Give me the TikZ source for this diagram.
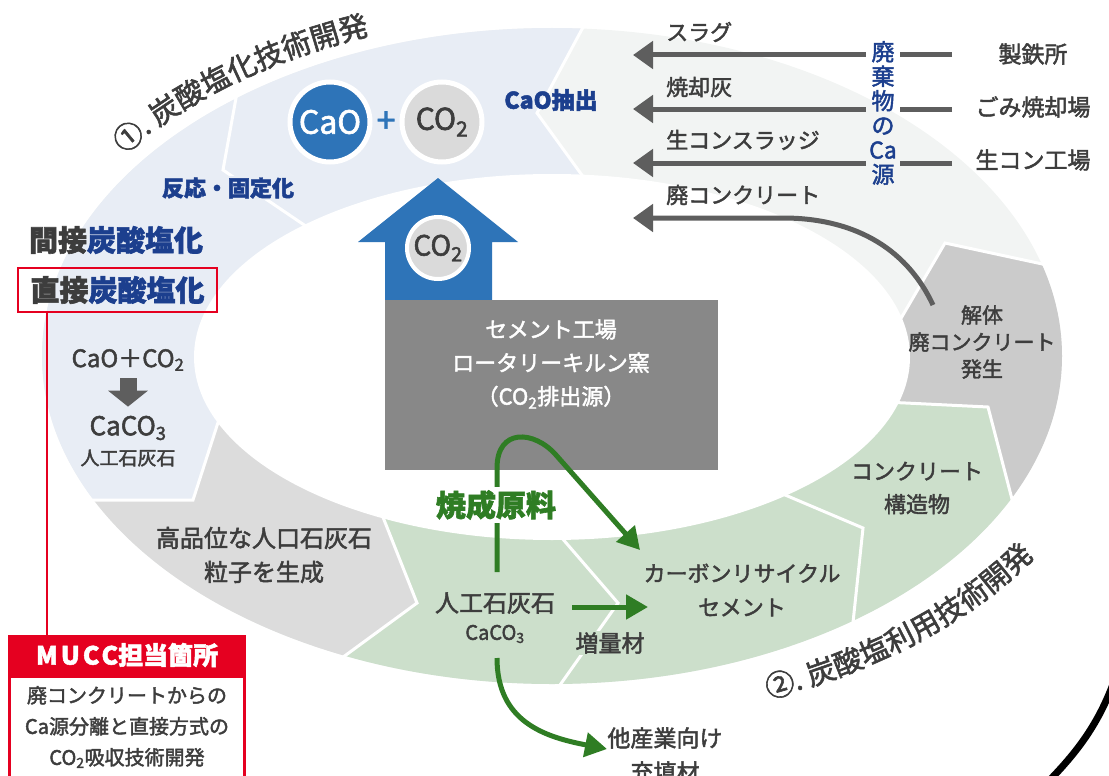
\documentclass[tikz,border=0pt]{standalone}
\usepackage{fontspec}
\setmainfont{Noto Sans CJK JP}[FakeBold=2]
\usetikzlibrary{arrows.meta}
\usetikzlibrary{decorations.text}
\usetikzlibrary{positioning}

\definecolor{ringblue}{HTML}{E8EDF5}
\definecolor{ringlight}{HTML}{F2F4F3}
\definecolor{ringgray}{HTML}{DCDCDC}
\definecolor{ringdark}{HTML}{CBCBCB}
\definecolor{ringgreen}{HTML}{CCDFCB}
\definecolor{kilngray}{HTML}{888888}
\definecolor{cablue}{HTML}{2E74B8}
\definecolor{co2gray}{HTML}{DADADA}
\definecolor{navy}{HTML}{1C3F8E}
\definecolor{txtgray}{HTML}{3D3D3D}
\definecolor{arrowgray}{HTML}{5E5E5E}
\definecolor{leafgreen}{HTML}{2F7D24}
\definecolor{mred}{HTML}{E50020}

\newcommand{\pxsize}[2]{\fontsize{#1}{#2}\selectfont}

\tikzset{
  lbl/.style={text=txtgray, align=center, inner sep=1pt},
  navylbl/.style={text=navy, align=center, inner sep=1pt, font=\bfseries\pxsize{#1}{#1}},
  segline/.style={draw=white, line width=3pt},
  ball/.style={circle, draw=white, line width=5pt, minimum size=80pt, inner sep=0pt},
  srcarrow/.style={draw=arrowgray, line width=5pt, -{Triangle[length=20pt, width=27pt]}},
  feedarrow/.style={draw=leafgreen, line width=5pt, -{Triangle[length=22pt, width=24pt]}},
}

\begin{document}
\begin{tikzpicture}[x=1pt, y=-1pt]
  \useasboundingbox (0,0) rectangle (1109,776);

  \begin{scope}
    \clip (552,356) ellipse [x radius=510, y radius=328];
    \fill[ringlight] (-30,-30) rectangle (1140,800);
    \fill[ringblue] (592,189) -- (537,113) -- (588,18) -- (588,-30) -- (-30,-30) -- (-30,500) -- (193,500) -- (224,404) -- (552,356) -- cycle;
    \fill[ringgray] (224,404) -- (193,500) -- (-30,500) -- (-30,800) -- (300,800) -- (335,663) -- (417,603) -- (375,497) -- (552,356) -- cycle;
    \fill[ringgreen] (375,497) -- (417,603) -- (335,663) -- (300,800) -- (1140,800) -- (1140,510) -- (1013,503) -- (988,407) -- (885,402) -- (552,356) -- cycle;
    \fill[ringdark] (885,402) -- (988,407) -- (1013,503) -- (1140,510) -- (1140,250) -- (1047,265) -- (945,243) -- (893,332) -- (552,356) -- cycle;
  \end{scope}
  \fill[white] (552,357) ellipse [x radius=358, y radius=183];

  \draw[segline] (592,189) -- (537,113) -- (588,18);
  \draw[segline] (316,233) -- (223,170) -- (238,87);
  \draw[segline] (224,404) -- (193,500) -- (80,500);
  \draw[segline] (375,497) -- (417,603) -- (335,663);
  \draw[segline] (555,530) -- (618,603) -- (560,685);
  \draw[segline] (771,489) -- (863,528) -- (852,632);
  \draw[segline] (885,402) -- (988,407) -- (1013,503);
  \draw[segline] (893,332) -- (945,243) -- (1047,265);

  \path (552,356) ++(-153:530 and 342) coordinate (arc1);
  \path[decorate, decoration={text along path, text align=center,
      text={|\pxsize{29}{29}\color{txtgray}|①. 炭酸塩化技術開発}}]
    (arc1) arc[start angle=-153, end angle=-103, x radius=530, y radius=342];
  \path (552,356) ++(76:574 and 370) coordinate (arc2);
  \path[decorate, decoration={text along path, text align=center,
      text={|\pxsize{29}{29}\color{txtgray}|②. 炭酸塩利用技術開発}}]
    (arc2) arc[start angle=76, end angle=22, x radius=574, y radius=370];

  \node[ball, fill=cablue, text=white, font=\pxsize{32}{32}] (cao) at (330,122) {CaO};
  \node[text=cablue, inner sep=0pt, font=\pxsize{34}{34}] (plus) at (386,122) {+};
  \node[ball, fill=co2gray, text=txtgray, font=\pxsize{30}{30}] (co2) at (442,122) {CO\textsubscript{2}};

  \fill[cablue] (438,178) -- (518,242) -- (492,242) -- (492,300) -- (385,300) -- (385,242) -- (358,242) -- cycle;
  \node[ball, fill=co2gray, minimum size=62pt, line width=4pt, text=txtgray, font=\pxsize{28}{28}] (co2up) at (438,248) {CO\textsubscript{2}};

  \node[fill=kilngray, minimum width=333pt, minimum height=170pt, inner sep=0pt] (kiln) at (551.5,385) {};
  \node[text=white, align=center, font=\pxsize{22}{33.5}] (kilnlbl) at (551,364) {セメント工場\\ロータリーキルン窯\\（CO\textsubscript{2}排出源）};

  \node[navylbl=23] (caox) at (551,100) {CaO抽出};
  \node[navylbl=22, fill=ringblue] (hanno) at (228,188) {反応・固定化};
  \node[lbl, font=\bfseries\pxsize{29}{29}] (kansetsu) at (116,240) {間接\textcolor{navy}{炭酸塩化}};
  \node[lbl, draw=mred, line width=2pt, minimum width=199pt, minimum height=44pt, font=\bfseries\pxsize{29}{29}] (chokusetsu) at (117.5,290) {直接\textcolor{navy}{炭酸塩化}};

  \node[lbl, font=\pxsize{24}{24}] (rxn) at (128,360) {CaO＋CO\textsubscript{2}};
  \node[lbl, font=\pxsize{26}{26}] (caco3a) at (128,428) {CaCO\textsubscript{3}};
  \node[lbl, font=\pxsize{19}{19}] (jinko1) at (128,458) {人工石灰石};
  \draw[arrowgray, line width=17pt, -{Triangle[length=16pt, width=39pt]}, shorten <=6pt, shorten >=8pt] (rxn.south) -- (caco3a.north);

  \node[lbl, font=\pxsize{24}{34}] (koshitsu) at (264,555) {高品位な人口石灰石\\粒子を生成};
  \node[lbl, font=\pxsize{24}{24}] (jinko2) at (495,603) {人工石灰石};
  \node[lbl, font=\pxsize{20}{20}] (caco3b) at (495,634) {CaCO\textsubscript{3}};
  \node[lbl, font=\pxsize{23}{23}, fill=ringgreen] (zoryo) at (610,643) {増量材};
  \node[lbl, font=\pxsize{22}{34}] (crc) at (742,590) {カーボンリサイクル\\セメント};
  \node[lbl, font=\pxsize{22}{33}] (kozo) at (917,488) {コンクリート\\構造物};
  \node[lbl, font=\pxsize{21}{27}] (kaitai) at (982,342) {解体\\廃コンクリート\\発生};
  \node[lbl, font=\pxsize{23}{34}] (other) at (665,755) {他産業向け\\充填材};

  \node[lbl, font=\pxsize{23}{23}] (steel) at (1033,54) {製鉄所};
  \node[lbl, font=\pxsize{23}{23}] (incin) at (1033,107) {ごみ焼却場};
  \node[lbl, font=\pxsize{23}{23}] (rmc) at (1033,160) {生コン工場};
  \node[lbl, anchor=west, font=\pxsize{22}{22}] (slag) at (665,32) {スラグ};
  \node[lbl, anchor=west, font=\pxsize{22}{22}] (ash) at (665,87) {焼却灰};
  \node[lbl, anchor=west, font=\pxsize{22}{22}] (sludge) at (665,140) {生コンスラッジ};
  \node[lbl, anchor=west, font=\pxsize{22}{22}] (wastecon) at (665,195) {廃コンクリート};
  \node[text=navy, align=center, inner xsep=3pt, inner ysep=0pt, font=\pxsize{23}{24.5}] (casrc) at (883,113) {廃\\棄\\物\\の\\Ca\\源};

  \coordinate (slagin) at (633,55);
  \coordinate (ashin) at (633,109);
  \coordinate (sludgein) at (633,163);
  \coordinate (wastein) at (633,218);
  \coordinate (steelout) at (952,55);
  \coordinate (incinout) at (952,109);
  \coordinate (rmcout) at (952,163);
  \coordinate (kaitaiout) at (933,305);

  \draw[srcarrow, -] (steelout) -- (casrc.east |- steelout);
  \draw[srcarrow] (casrc.west |- steelout) -- (slagin);
  \draw[srcarrow, -] (incinout) -- (casrc.east |- incinout);
  \draw[srcarrow] (casrc.west |- incinout) -- (ashin);
  \draw[srcarrow, -] (rmcout) -- (casrc.east |- rmcout);
  \draw[srcarrow] (casrc.west |- rmcout) -- (sludgein);
  \draw[srcarrow] (kaitaiout) .. controls (905,245) and (850,218) .. (783,218) -- (wastein);

  \coordinate (loopstart) at (497,572);
  \coordinate (crcin) at (640,550);
  \coordinate (limeout) at (572,607);
  \coordinate (cementin) at (648,607);
  \coordinate (limedown) at (497,658);
  \coordinate (fillerin) at (607,749);
  \draw[feedarrow] (loopstart) -- (497,468) .. controls (497,428) and (534,430) .. (556,455) -- (crcin);
  \draw[feedarrow] (limeout) -- (cementin);
  \draw[feedarrow] (limedown) .. controls (497,722) and (545,737) .. (fillerin);
  \node[text=leafgreen, fill=white, inner sep=3pt, font=\bfseries\pxsize{30}{30}] (shosei) at (496,505) {焼成原料};

  \node[fill=mred, text=white, minimum width=238pt, minimum height=40pt, inner sep=0pt, font=\bfseries\pxsize{25}{25}] (mucchead) at (127,655) {{\addfontfeature{LetterSpace=12}MUCC}担当箇所};
  \node[draw=mred, line width=3pt, fill=white, minimum width=235pt, minimum height=130pt, below=0pt of mucchead] (muccbody) {};
  \node[lbl, font=\pxsize{20}{31}] (mucctext) at (127,727) {廃コンクリートからの\\Ca源分離と直接方式の\\CO\textsubscript{2}吸収技術開発};
  \coordinate (redx) at (47,0);
  \draw[mred, line width=2pt] (chokusetsu.south -| redx) -- (mucchead.north -| redx);

  \draw[line width=7pt] (1040,790) .. controls (1075,755) and (1100,725) .. (1118,670);
\end{tikzpicture}
\end{document}
